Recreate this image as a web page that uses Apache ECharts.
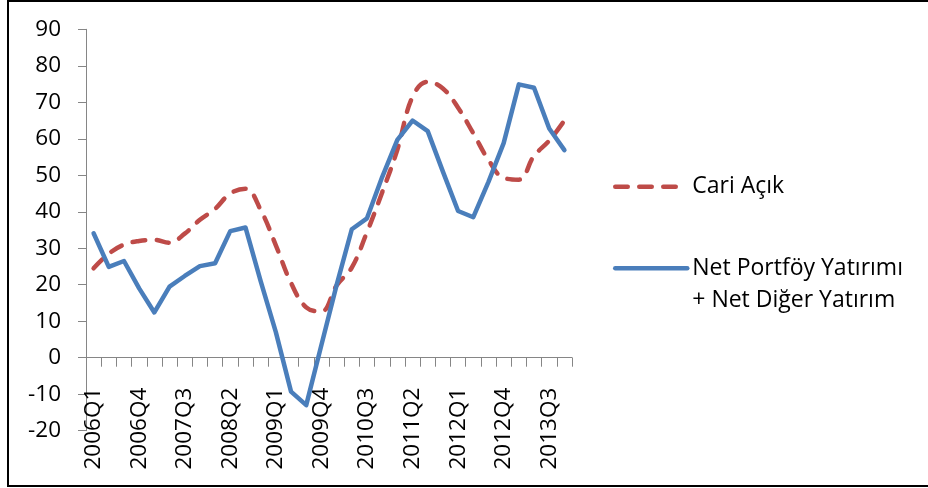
<!DOCTYPE html>
<html>
<head>
<meta charset="utf-8">
<script src="https://cdn.jsdelivr.net/npm/echarts/dist/echarts.min.js"></script>
<style>
  html, body { margin: 0; padding: 0; background: #fff; }
  #chart { width: 928px; height: 488px; }
</style>
</head>
<body>
<div id="chart"></div>
<script>
const quarters = [
  '2006Q1', '2006Q2', '2006Q3', '2006Q4', '2007Q1', '2007Q2', '2007Q3', '2007Q4',
  '2008Q1', '2008Q2', '2008Q3', '2008Q4', '2009Q1', '2009Q2', '2009Q3', '2009Q4',
  '2010Q1', '2010Q2', '2010Q3', '2010Q4', '2011Q1', '2011Q2', '2011Q3', '2011Q4',
  '2012Q1', '2012Q2', '2012Q3', '2012Q4', '2013Q1', '2013Q2', '2013Q3', '2013Q4'
]

// Cari Açık (red dashed)
const cariAcik = [24.5, 28.5, 31, 32, 32.3, 31.5, 34, 37.8, 40.8, 45, 46.3, 40.5,
  30.8, 20.5, 13.8, 12.7, 19.8, 24.7, 34.4, 45.3, 57, 71.5, 75.6, 73.8,
  68.5, 61.5, 54.2, 49.3, 48.8, 55.3, 59.5, 65]

// Net Portföy Yatırımı + Net Diğer Yatırım (blue)
const netYatirim = [34.1, 24.9, 26.5, 19.0, 12.4, 19.5, 22.4, 25.1, 25.9, 34.7, 35.7, 21,
  7, -9.3, -13, 3.5, 19.9, 35.2, 38.2, 49.5, 59.7, 65, 62.1, 51,
  40.2, 38.5, 48.2, 58.8, 74.9, 74, 62.8, 56.9]

const nameRed = 'Cari Açık'
const nameBlue = 'Net Portföy Yatırımı\n+ Net Diğer Yatırım'

const font = 'Open Sans'
const chart = echarts.init(document.getElementById('chart'))

chart.setOption({
  animation: false,
  backgroundColor: '#fff',
  grid: { left: 86, right: 356, top: 29.3, bottom: 57.3, outerBoundsMode: 'none', containLabel: false },
  // outer frame of the picture
  graphic: [{
    type: 'rect',
    shape: { x: 8, y: 1, width: 940, height: 485 },
    style: { fill: 'none', stroke: '#000', lineWidth: 2 },
    silent: true
  }],
  legend: {
    orient: 'vertical',
    left: 613,
    top: 170.7,
    padding: 0,
    itemWidth: 72,
    itemHeight: 10,
    itemGap: 17.6,
    data: [nameRed, nameBlue],
    itemStyle: { opacity: 0 },
    lineStyle: { width: 4.5, cap: 'round' },
    // blank first line keeps the line symbol next to the first row of text
    formatter: (name) => name === nameBlue ? '\n' + name : name,
    textStyle: { fontFamily: font, fontSize: 23, lineHeight: 32, color: '#000' }
  },
  xAxis: {
    type: 'category',
    data: quarters,
    boundaryGap: true,
    axisLine: { onZero: true, lineStyle: { color: '#868686', width: 1 } },
    axisTick: { show: true, interval: 0, length: 9, lineStyle: { color: '#868686' } },
    axisLabel: {
      interval: 2,
      rotate: 90,
      margin: -43,
      fontFamily: font,
      fontSize: 22.5,
      color: '#000'
    },
    splitLine: { show: false }
  },
  yAxis: {
    type: 'value',
    min: -20,
    max: 90,
    interval: 10,
    axisLine: { show: true, lineStyle: { color: '#868686', width: 1 } },
    axisTick: { show: true, length: 8, lineStyle: { color: '#868686' } },
    axisLabel: { margin: 25, fontFamily: font, fontSize: 22.5, color: '#000' },
    splitLine: { show: false }
  },
  series: [
    {
      name: nameRed,
      type: 'line',
      data: cariAcik,
      smooth: 0.4,
      symbol: 'none',
      color: '#BE4B48',
      lineStyle: { color: '#BE4B48', width: 4.5, type: [12.5, 11.5], cap: 'round', join: 'round' }
    },
    {
      name: nameBlue,
      type: 'line',
      data: netYatirim,
      symbol: 'none',
      color: '#4A7EBB',
      lineStyle: { color: '#4A7EBB', width: 4.5, cap: 'round', join: 'round' }
    }
  ]
})

window.addEventListener('resize', () => chart.resize())
</script>
</body>
</html>
